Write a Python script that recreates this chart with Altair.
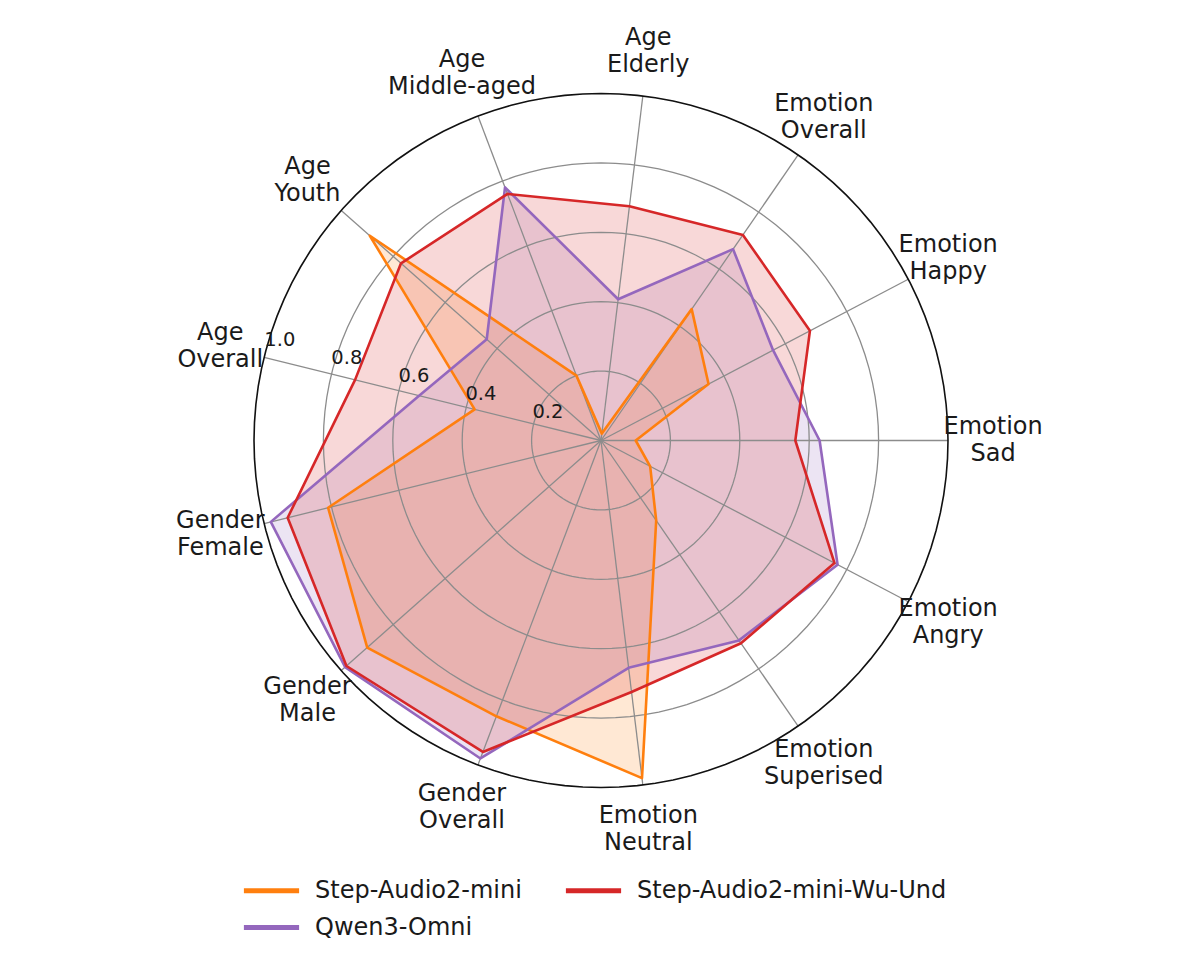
import math
import altair as alt
import pandas as pd

# ---------------- data ----------------
categories = [
    "Emotion\nSad", "Emotion\nHappy", "Emotion\nOverall", "Age\nElderly",
    "Age\nMiddle-aged", "Age\nYouth", "Age\nOverall", "Gender\nFemale",
    "Gender\nMale", "Gender\nOverall", "Emotion\nNeutral", "Emotion\nSuperised",
    "Emotion\nAngry",
]
step_audio2_mini = [0.10, 0.35, 0.46, 0.02, 0.20, 0.89, 0.375, 0.81, 0.90, 0.85, 0.98, 0.28, 0.16]
qwen3_omni = [0.63, 0.56, 0.67, 0.41, 0.78, 0.44, 0.54, 0.98, 0.985, 0.98, 0.66, 0.70, 0.77]
step_audio2_mini_wu_und = [0.56, 0.68, 0.72, 0.68, 0.76, 0.77, 0.73, 0.93, 0.98, 0.96, 0.73, 0.71, 0.76]

models = ["Step-Audio2-mini", "Qwen3-Omni", "Step-Audio2-mini-Wu-Und"]
model_colors = ["#ff7f0e", "#9467bd", "#d62728"]
series_values = [step_audio2_mini, qwen3_omni, step_audio2_mini_wu_und]

ring_values = [0.2, 0.4, 0.6, 0.8, 1.0]
ring_labels = ["0.2", "0.4", "0.6", "0.8", "1.0"]

# ---------------- layout constants ----------------
N = len(categories)
R_PX = 347.0          # pixels per unit radius
CX, CY = 601.0, 440.5  # page position of the centre
OFF = 8.0
W, H = 1184, 944
LABEL_R = 1.13
RLABEL_ANGLE = 165.0
FONT = "DejaVu Sans"
TEXT_COLOR = "#1a1a1a"
GRID_COLOR = "#8c8c8c"
FILL_OPACITY = 0.18

xdom = [-(CX - OFF) / R_PX, (OFF + W - CX) / R_PX]
ydom = [-(OFF + H - CY) / R_PX, (CY - OFF) / R_PX]
xs = alt.Scale(domain=xdom, nice=False, zero=False)
ys = alt.Scale(domain=ydom, nice=False, zero=False)


def X(f):
    return alt.X(f, type="quantitative", scale=xs, axis=None)


def Y(f):
    return alt.Y(f, type="quantitative", scale=ys, axis=None)


theta_expr = f"datum.idx * 2 * PI / {N}"

# ---------------- tables ----------------
series_df = pd.DataFrame(
    [
        {"model": m, "idx": i, "value": v}
        for m, vals in zip(models, series_values)
        for i, v in enumerate(vals)
    ]
)
cat_df = pd.DataFrame({"idx": list(range(N)), "label": categories})
ring_df = pd.DataFrame(
    [{"ring": r, "step": s} for r in ring_values for s in range(121)]
)
rlab_df = pd.DataFrame({"ring": ring_values, "label": ring_labels})

color_scale = alt.Scale(domain=models, range=model_colors)


def series_base(m):
    return (
        alt.Chart(series_df)
        .transform_filter(alt.datum.model == m)
        .transform_calculate(theta=theta_expr)
        .transform_calculate(px="datum.value * cos(datum.theta)")
        .transform_calculate(py="datum.value * sin(datum.theta)")
    )


fills = [
    series_base(m)
    .mark_line(interpolate="linear-closed", fill=c, fillOpacity=FILL_OPACITY, strokeOpacity=0)
    .encode(x=X("px"), y=Y("py"), order=alt.Order("idx:Q"))
    for m, c in zip(models, model_colors)
]

legend = alt.Legend(
    title=None,
    orient="none",
    direction="vertical",
    legendX=249,
    legendY=868,
    columns=2,
    symbolType="M-2.3,0H2.3",
    symbolSize=576,
    symbolStrokeWidth=5,
    labelFontSize=24,
    labelFont=FONT,
    labelColor=TEXT_COLOR,
    labelOffset=29,
    columnPadding=33,
    rowPadding=10,
    padding=0,
    labelLimit=400,
)

lines = [
    series_base(m)
    .mark_line(interpolate="linear-closed", strokeWidth=2.6, strokeJoin="round")
    .encode(
        x=X("px"),
        y=Y("py"),
        order=alt.Order("idx:Q"),
        color=alt.Color("model:N", scale=color_scale, legend=legend),
    )
    for m in models
]

ring_base = (
    alt.Chart(ring_df)
    .transform_calculate(theta="datum.step * 3 * PI / 180")
    .transform_calculate(px="datum.ring * cos(datum.theta)")
    .transform_calculate(py="datum.ring * sin(datum.theta)")
)
inner_rings = (
    ring_base.transform_filter(alt.datum.ring < 1)
    .mark_line(color=GRID_COLOR, strokeWidth=1.3)
    .encode(x=X("px"), y=Y("py"), detail="ring:N", order=alt.Order("step:Q"))
)
outer_ring = (
    ring_base.transform_filter(alt.datum.ring >= 1)
    .mark_line(color="#111111", strokeWidth=1.6)
    .encode(x=X("px"), y=Y("py"), detail="ring:N", order=alt.Order("step:Q"))
)

spokes = (
    alt.Chart(cat_df)
    .transform_calculate(theta=theta_expr)
    .transform_calculate(x0="0", y0="0")
    .transform_calculate(x1="cos(datum.theta)", y1="sin(datum.theta)")
    .mark_rule(color=GRID_COLOR, strokeWidth=1.3)
    .encode(x=X("x0"), y=Y("y0"), x2="x1:Q", y2="y1:Q")
)

cat_labels = (
    alt.Chart(cat_df)
    .transform_calculate(theta=theta_expr)
    .transform_calculate(lx=f"{LABEL_R} * cos(datum.theta)")
    .transform_calculate(ly=f"{LABEL_R} * sin(datum.theta)")
    .mark_text(
        lineBreak="\n",
        align="center",
        baseline="middle",
        fontSize=24,
        lineHeight=27,
        font=FONT,
        color=TEXT_COLOR,
        dy=-13.5,
    )
    .encode(x=X("lx"), y=Y("ly"), text="label:N")
)

r_labels = (
    alt.Chart(rlab_df)
    .transform_calculate(tx=f"datum.ring * cos({RLABEL_ANGLE} * PI / 180)")
    .transform_calculate(ty=f"datum.ring * sin({RLABEL_ANGLE} * PI / 180)")
    .mark_text(
        align="center",
        baseline="middle",
        fontSize=19.5,
        font=FONT,
        color=TEXT_COLOR,
        dx=14,
        dy=-11,
    )
    .encode(x=X("tx"), y=Y("ty"), text="label:N")
)

chart = (
    alt.layer(*fills, inner_rings, spokes, outer_ring, *lines, r_labels, cat_labels)
    .properties(
        width=W,
        height=H,
        padding=0,
        autosize=alt.AutoSizeParams(type="none"),
    )
    .configure_view(stroke=None)
)

chart.save("out.html", embed_options={"renderer": "svg", "actions": False})
